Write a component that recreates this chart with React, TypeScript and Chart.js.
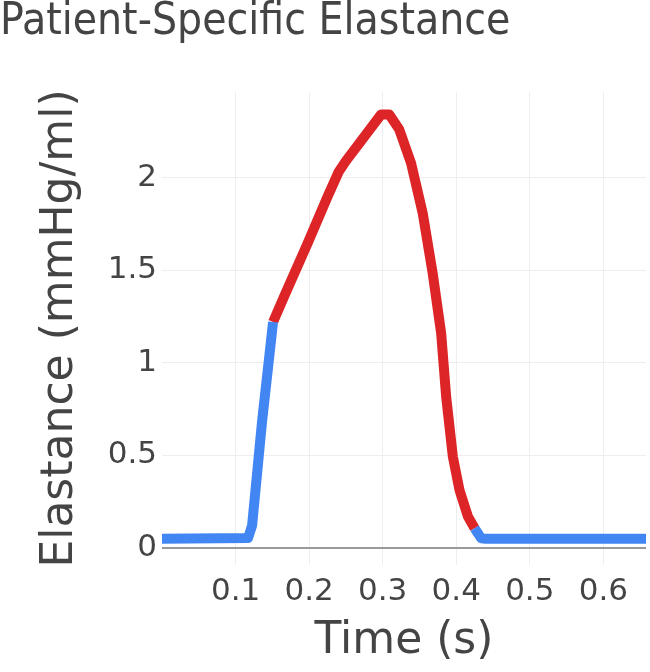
import React, { useEffect, useRef } from "react";
import { Chart, registerables } from "chart.js";

Chart.register(...registerables);

const titleText = "Patient-Specific Elastance";
const xTitle = "Time (s)";
const yTitle = "Elastance (mmHg/ml)";

// Blue (filling / relaxation) — before contraction
const riseTime = [0.0, 0.117, 0.1225, 0.136, 0.151];
const riseValue = [0.048, 0.052, 0.12, 0.68, 1.22];

// Red (contraction)
const activeTime = [0.151, 0.166, 0.198, 0.225, 0.24, 0.25, 0.298, 0.309, 0.3226, 0.3386, 0.3545, 0.368, 0.3795, 0.3863, 0.3954, 0.4044, 0.4159, 0.425];
const activeValue = [1.22, 1.357, 1.645, 1.897, 2.03, 2.09, 2.342, 2.342, 2.26, 2.078, 1.807, 1.483, 1.159, 0.816, 0.492, 0.312, 0.168, 0.105];

// Blue after contraction
const restTime = [0.425, 0.434, 0.44, 0.66];
const restValue = [0.105, 0.05, 0.048, 0.048];

const xTicks = [0.1, 0.2, 0.3, 0.4, 0.5, 0.6];
const yTicks = [0, 0.5, 1, 1.5, 2];

const toPoints = (t: number[], v: number[]) => t.map((x, i) => ({ x, y: v[i] }));

export default function App() {
  const ref = useRef<HTMLCanvasElement | null>(null);
  useEffect(() => {
    document.body.style.margin = "0";
    const canvas = ref.current!;
    const font = "'DejaVu Sans', Verdana, sans-serif";
    const blue = "#4286f4";
    const red = "#dd2528";
    const chart = new Chart(canvas, {
      type: "line",
      data: {
        datasets: [
          { data: toPoints(riseTime, riseValue), borderColor: blue },
          { data: toPoints(restTime, restValue), borderColor: blue },
          { data: toPoints(activeTime, activeValue), borderColor: red },
        ].map((d) => ({
          ...d,
          borderWidth: 10,
          pointRadius: 0,
          tension: 0,
          borderJoinStyle: "round" as const,
          borderCapStyle: "butt" as const,
          fill: false,
        })),
      },
      options: {
        animation: false,
        responsive: false,
        maintainAspectRatio: false,
        layout: { padding: { left: 0, right: 4, top: 0, bottom: 0 } },
        plugins: {
          legend: { display: false },
          tooltip: { enabled: false },
          title: {
            display: true,
            text: titleText,
            align: "start",
            color: "#444",
            font: { family: "'DejaVu Sans Condensed', 'DejaVu Sans', sans-serif", size: 44, weight: "normal", lineHeight: 1.0 },
            padding: { top: 1, bottom: 47 },
          },
        },
        scales: {
          x: {
            type: "linear",
            min: 0,
            max: 0.658,
            border: { display: false },
            grid: { color: "#eeeeee", lineWidth: 1, drawTicks: false },
            afterBuildTicks: (s: any) => {
              s.ticks = xTicks.map((value) => ({ value }));
            },
            afterFit: (s: any) => {
              s.height = 107;
            },
            ticks: {
              color: "#444",
              font: { family: font, size: 31 },
              padding: 8,
              maxRotation: 0,
              autoSkip: false,
              callback: (v: any) => String(Math.round(Number(v) * 10) / 10),
            },
            title: {
              display: true,
              text: xTitle,
              color: "#444",
              font: { family: font, size: 44, lineHeight: 1.2 },
              padding: { top: 0, bottom: 4 },
            },
          },
          y: {
            type: "linear",
            min: -0.094,
            max: 2.463,
            border: { display: false },
            grid: {
              color: (c: any) => (c.tick && c.tick.value === 0 ? "#999999" : "#eeeeee"),
              lineWidth: (c: any) => (c.tick && c.tick.value === 0 ? 2 : 1),
              drawTicks: false,
            },
            afterBuildTicks: (s: any) => {
              s.ticks = yTicks.map((value) => ({ value }));
            },
            afterFit: (s: any) => {
              s.width = 162;
            },
            ticks: {
              color: "#444",
              font: { family: font, size: 31 },
              padding: 5,
              autoSkip: false,
              callback: (v: any) => String(v),
            },
            title: {
              display: true,
              text: yTitle,
              color: "#444",
              font: { family: font, size: 44, lineHeight: 1.2 },
              padding: { top: 34, bottom: 0 },
            },
          },
        },
      },
    });
    return () => chart.destroy();
  }, []);
  return (
    <div style={{ width: 650, height: 672 }}>
      <canvas ref={ref} width={650} height={672} style={{ display: "block" }} />
    </div>
  );
}
